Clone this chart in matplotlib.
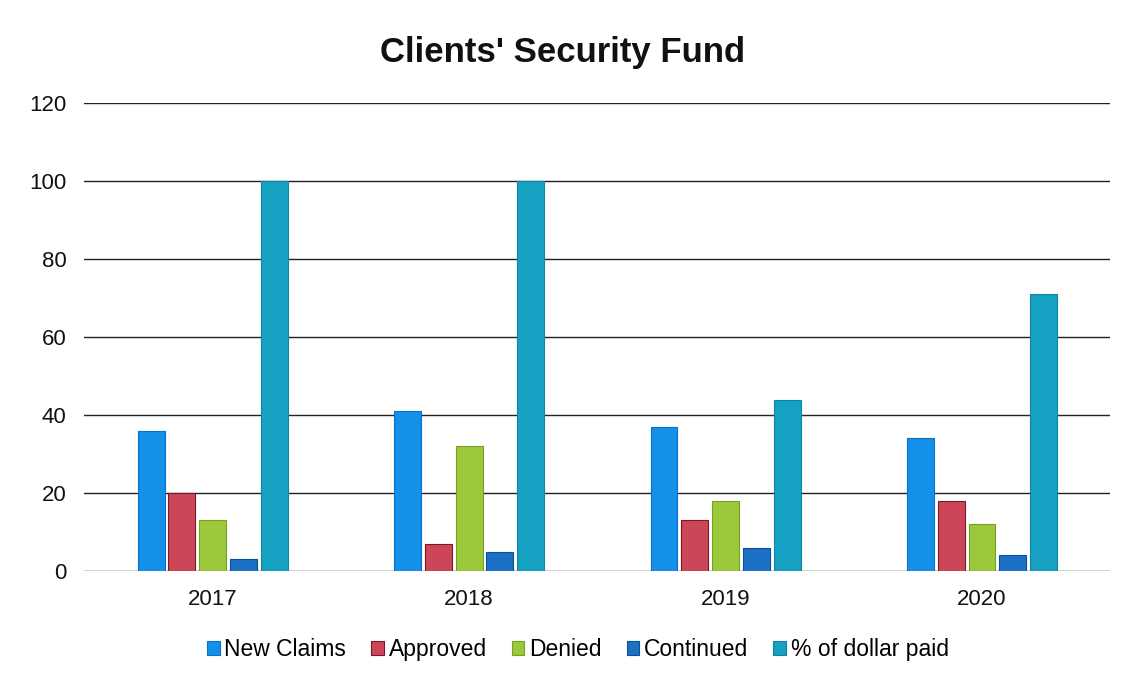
import numpy as np
import matplotlib
matplotlib.use("Agg")
import matplotlib.pyplot as plt

plt.rcParams['font.family'] = ['Liberation Sans', 'DejaVu Sans']

# data
years = ["2017", "2018", "2019", "2020"]
series_names = ["New Claims", "Approved", "Denied", "Continued", "% of dollar paid"]
new_claims = [36, 41, 37, 34]
approved = [20, 7, 13, 18]
denied = [13, 32, 18, 12]
continued = [3, 5, 6, 4]
pct_paid = [100, 100, 44, 71]
y_ticks = [0, 20, 40, 60, 80, 100, 120]

colors = ["#1590ea", "#cc4658", "#9cc83c", "#1c70c4", "#16a0c2"]
edges = ["#0d6fc0", "#7a1a28", "#7aa020", "#0b4f9a", "#0f86a8"]

fig = plt.figure(figsize=(11.26, 6.79), dpi=100)
ax = fig.add_axes([0.075, 0.159, 0.911, 0.689])

x = np.arange(len(years))
step = 0.12
width = 0.105
all_series = [new_claims, approved, denied, continued, pct_paid]
for i, vals in enumerate(all_series):
    ax.bar(x + (i - 2) * step, vals, width, color=colors[i], edgecolor=edges[i],
           linewidth=0.8, label=series_names[i], zorder=3)

ax.set_xlim(-0.5, 3.5)
ax.set_ylim(0, 120)
ax.set_yticks(y_ticks)
ax.set_xticks(x)
ax.set_xticklabels(years)
ax.tick_params(axis="both", length=0, labelsize=16, colors="#111111")
ax.tick_params(axis="y", pad=13)
ax.tick_params(axis="x", pad=13)
ax.yaxis.grid(True, color="#222222", linewidth=1.0, zorder=0)
for s in ax.spines.values():
    s.set_visible(False)

fig.suptitle("Clients' Security Fund", y=0.947, fontsize=25, fontweight="bold", color="#111111")

ax.legend(loc="upper center", bbox_to_anchor=(0.481, -0.1), ncol=5, frameon=False,
          fontsize=16.5, handlelength=0.55, handleheight=0.55, handletextpad=0.2,
          columnspacing=1.1)

fig.savefig("out.png", dpi=100)
